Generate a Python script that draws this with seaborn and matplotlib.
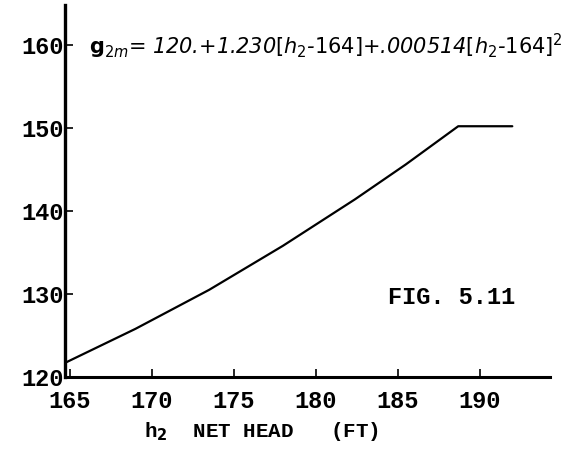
import matplotlib
matplotlib.use("Agg")
import matplotlib.pyplot as plt
import seaborn as sns
import pandas as pd

# values
net_head = [164.7, 169.0, 173.5, 178.0, 182.4, 185.5, 188.7, 192.0]
flow = [121.7, 125.8, 130.5, 135.8, 141.4, 145.6, 150.2, 150.2]
x_ticks = [165, 170, 175, 180, 185, 190]
y_ticks = [120, 130, 140, 150, 160]

df = pd.DataFrame({'h2': net_head, 'q2m': flow})

sns.set_style("ticks")
plt.rcParams['font.family'] = ['Liberation Mono', 'DejaVu Sans']
plt.rcParams['text.color'] = 'black'
plt.rcParams['axes.labelcolor'] = 'black'
plt.rcParams['xtick.color'] = 'black'
plt.rcParams['ytick.color'] = 'black'

fig = plt.figure(figsize=(5.75, 4.55), dpi=100)
ax = fig.add_axes([0.113, 0.1714, 0.8435, 0.8176])

sns.lineplot(data=df, x='h2', y='q2m', ax=ax, color='black', linewidth=1.6)

ax.set_xlim(164.7, 194.3)
ax.set_ylim(120, 164.8)
ax.set_xticks(x_ticks)
ax.set_yticks(y_ticks)
ax.set_xticklabels([str(t) for t in x_ticks], fontsize=17, fontweight='bold')
ax.set_yticklabels([str(t) for t in y_ticks], fontsize=17, fontweight='bold')
ax.tick_params(axis='both', direction='in', length=6, width=1.2, colors='black')
ax.tick_params(axis='x', pad=9)
ax.tick_params(axis='y', pad=1)

sns.despine(ax=ax)
ax.spines['left'].set_linewidth(2.4)
ax.spines['bottom'].set_linewidth(2.2)
ax.spines['left'].set_color('black')
ax.spines['bottom'].set_color('black')

ax.set_xlabel(r'h$_\mathbf{2}$  NET HEAD   (FT)', fontsize=15, fontweight='bold', labelpad=0)
ax.xaxis.set_label_coords(0.405, -0.115)
ax.set_ylabel('')

ax.text(0.05, 0.89,
        r'$\mathbf{g}_{2m}$= 120.+1.230$[h_2$-$164]$+.000514$[h_2$-$164]^2$',
        transform=ax.transAxes, fontsize=15, style='italic',
        family=['DejaVu Sans'], va='center', ha='left')

ax.text(0.665, 0.215, 'FIG. 5.11', transform=ax.transAxes,
        fontsize=17, fontweight='bold', va='center', ha='left')

fig.savefig('out.png', dpi=100)
